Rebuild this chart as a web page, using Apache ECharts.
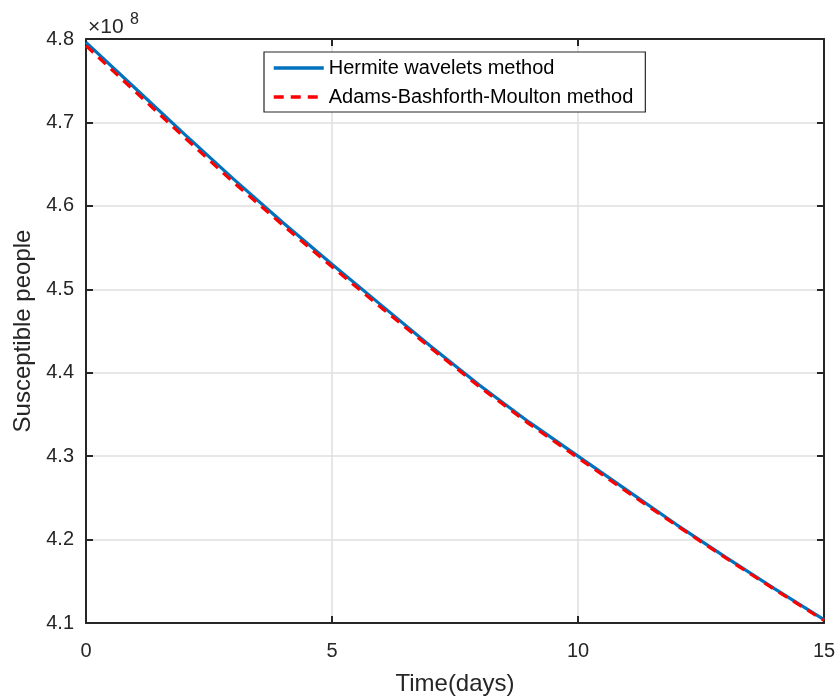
<!DOCTYPE html>
<html>
<head>
<meta charset="utf-8">
<script src="https://cdn.jsdelivr.net/npm/echarts@6/dist/echarts.min.js"></script>
<style>
html,body{margin:0;padding:0;background:#fff;}
#chart{width:838px;height:696px;}
</style>
</head>
<body>
<div id="chart"></div>
<script>
// Time in days
var days = [0,1,2,3,4,5,6,7,8,9,10,11,12,13,14,15];
// Susceptible people, in units of 10^8
var hermiteWavelets = [4.796,4.741,4.686,4.632,4.580,4.530,4.481,4.432,4.385,4.341,4.300,4.259,4.218,4.179,4.141,4.104];
var adamsBashforthMoulton = [4.792,4.737,4.682,4.628,4.577,4.527,4.478,4.430,4.383,4.339,4.298,4.257,4.217,4.178,4.140,4.103];
var seriesNames = ['Hermite wavelets method','Adams-Bashforth-Moulton method'];
var xTicks = [0,5,10,15];
var yTicks = [4.1,4.2,4.3,4.4,4.5,4.6,4.7,4.8];
var xTitle = 'Time(days)';
var yTitle = 'Susceptible people';
var scaleBase = '×10';
var scaleExp = '8';

function pairs(xs, ys){ return xs.map(function(x,i){ return [x, ys[i]]; }); }

var textColor = '#262626';
var fontFam = '"Liberation Sans", Arial, Helvetica, sans-serif';
var chart = echarts.init(document.getElementById('chart'), null, {renderer:'canvas'});

var axisLineStyle = {color: textColor, width: 2};
var option = {
  backgroundColor: '#ffffff',
  animation: false,
  textStyle: {fontFamily: fontFam, color: textColor},
  grid: {left: 86, top: 39, right: 14, bottom: 73, containLabel: false, outerBoundsMode: 'none'},
  legend: {
    data: seriesNames,
    orient: 'vertical',
    left: 264, top: 52,
    padding: [6, 12, 5, 8],
    itemWidth: 50, itemHeight: 14, itemGap: 9,
    backgroundColor: '#ffffff',
    borderColor: textColor, borderWidth: 1.2, borderRadius: 0,
    itemStyle: {opacity: 0},
    lineStyle: {width: 3.5},
    textStyle: {fontSize: 20, color: '#000', fontFamily: fontFam, lineHeight: 20}
  },
  graphic: [{
    type: 'text', left: 88, top: 17,
    style: {text: scaleBase, fontSize: 21, fill: textColor, fontFamily: fontFam}
  },{
    type: 'text', left: 130, top: 12,
    style: {text: scaleExp, fontSize: 16, fill: textColor, fontFamily: fontFam}
  }],
  xAxis: [{
    type: 'value', min: xTicks[0], max: xTicks[xTicks.length-1], interval: 5,
    position: 'bottom',
    name: xTitle, nameLocation: 'middle', nameGap: 49,
    nameTextStyle: {fontSize: 24, color: textColor, fontFamily: fontFam},
    axisLine: {show: true, lineStyle: axisLineStyle},
    axisTick: {show: true, inside: true, length: 7, lineStyle: axisLineStyle},
    axisLabel: {fontSize: 20, color: textColor, margin: 18, fontFamily: fontFam},
    splitLine: {show: true, lineStyle: {color: '#dfdfdf', width: 1.5}}
  },{
    type: 'value', min: xTicks[0], max: xTicks[xTicks.length-1], interval: 5,
    position: 'top',
    axisLine: {show: true, onZero: false, lineStyle: axisLineStyle},
    axisTick: {show: true, inside: true, length: 7, lineStyle: axisLineStyle},
    axisLabel: {show: false}, splitLine: {show: false}
  }],
  yAxis: [{
    type: 'value', min: 4.1, max: 4.8, interval: 0.1,
    position: 'left',
    name: yTitle, nameLocation: 'middle', nameGap: 51, nameRotate: 90,
    nameTextStyle: {fontSize: 24, color: textColor, fontFamily: fontFam},
    axisLine: {show: true, onZero: false, lineStyle: axisLineStyle},
    axisTick: {show: true, inside: true, length: 7, lineStyle: axisLineStyle},
    axisLabel: {fontSize: 20, color: textColor, margin: 12, fontFamily: fontFam, padding: [6, 0, 0, 0],
      formatter: function(v){ return v.toFixed(1); }},
    splitLine: {show: true, lineStyle: {color: '#dfdfdf', width: 1.5}}
  },{
    type: 'value', min: 4.1, max: 4.8, interval: 0.1,
    position: 'right',
    axisLine: {show: true, onZero: false, lineStyle: axisLineStyle},
    axisTick: {show: true, inside: true, length: 7, lineStyle: axisLineStyle},
    axisLabel: {show: false}, splitLine: {show: false}
  }],
  series: [{
    name: seriesNames[0], type: 'line', xAxisIndex: 0, yAxisIndex: 0,
    data: pairs(days, hermiteWavelets),
    showSymbol: false, symbol: 'none', smooth: false,
    lineStyle: {color: '#0072BD', width: 3.2},
    itemStyle: {color: '#0072BD'}
  },{
    name: seriesNames[1], type: 'line', xAxisIndex: 0, yAxisIndex: 0,
    data: pairs(days, adamsBashforthMoulton),
    showSymbol: false, symbol: 'none', smooth: false,
    lineStyle: {color: '#FF0000', width: 3.2, type: [10, 7]},
    itemStyle: {color: '#FF0000'}
  }]
};
chart.setOption(option);
</script>
</body>
</html>
